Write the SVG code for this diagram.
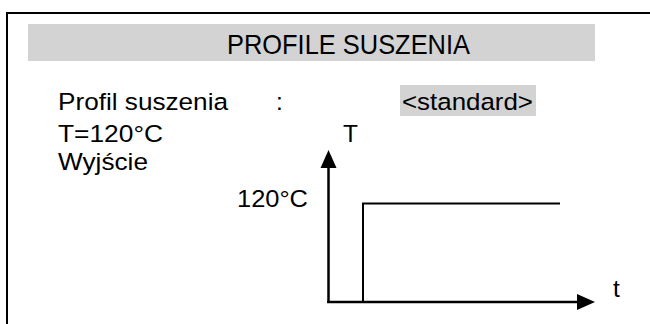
<svg xmlns="http://www.w3.org/2000/svg" width="650" height="324" viewBox="0 0 650 324">
<style>
text{font-family:"Liberation Sans",Arial,sans-serif;font-size:24.5px;fill:#000}
.ttl{font-size:28.5px}
.ln{fill:none;stroke:#000;stroke-width:2.5}
.hl{fill:#d3d3d3}
</style>
<rect width="650" height="324" fill="#fff"/>
<g id="frame"><path d="M7,324 V13 H650" fill="none" stroke="#000" stroke-width="2"/></g>
<g id="title"><rect class="hl" x="28" y="24" width="567" height="37"/><text class="ttl" x="227" y="54" textLength="243" lengthAdjust="spacingAndGlyphs">PROFILE SUSZENIA</text></g>
<g id="fields">
<text x="58" y="110" textLength="170" lengthAdjust="spacingAndGlyphs">Profil suszenia</text>
<text x="276" y="110">:</text>
<rect class="hl" x="400" y="85" width="136" height="31"/>
<text x="402" y="110" textLength="131" lengthAdjust="spacingAndGlyphs">&lt;standard&gt;</text>
<text x="58" y="142" textLength="105" lengthAdjust="spacingAndGlyphs">T=120°C</text>
<text x="58" y="170" textLength="90" lengthAdjust="spacingAndGlyphs">Wyjście</text>
</g>
<g id="chart-labels">
<text x="343" y="142">T</text>
<text x="237" y="207" textLength="71" lengthAdjust="spacingAndGlyphs">120°C</text>
<text x="613" y="297">t</text>
</g>
<g id="connectors">
<path class="ln" d="M328.5,303 V165"/>
<polygon points="328.5,150 320.5,168 336.5,168"/>
<path class="ln" d="M327.2,302 H580"/>
<polygon points="595,302 577,294 577,310"/>
<path d="M363,302 V203.5 H560" fill="none" stroke="#000" stroke-width="2"/>
</g>
</svg>
